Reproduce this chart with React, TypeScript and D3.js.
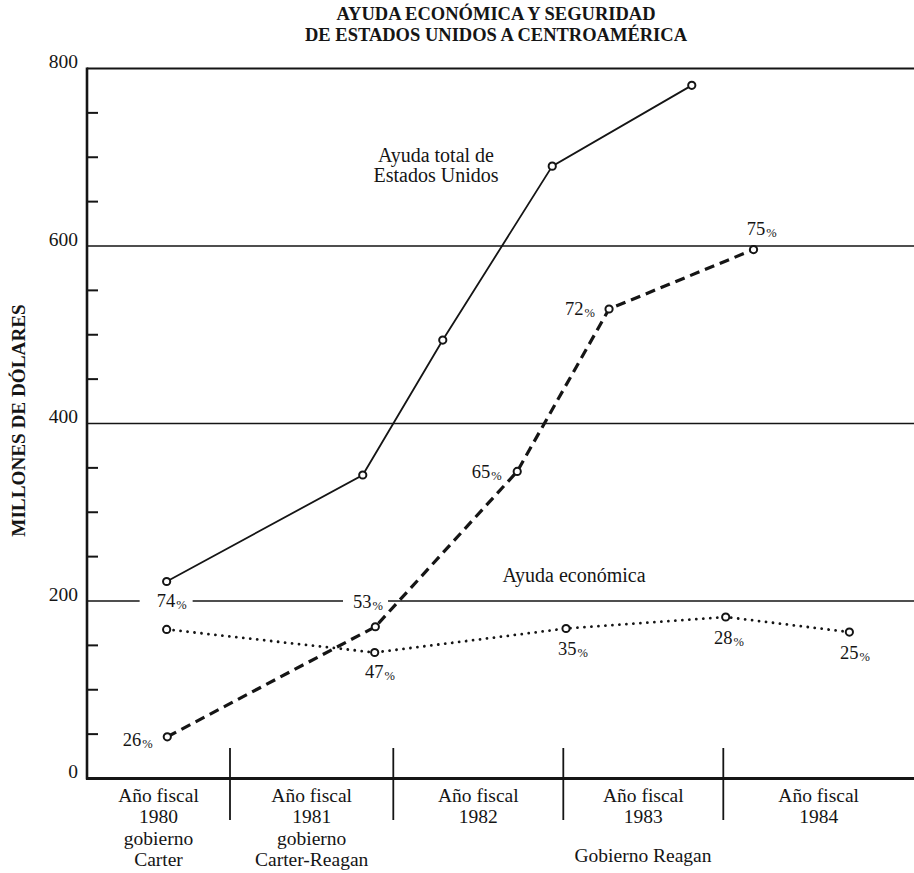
import React from 'react';
import * as d3 from 'd3';

const W = 914;
const H = 873;

// ---- data ----
const fiscalYears = ['1980', '1981', '1982', '1983', '1984'];
const yearBoundaries = [1981, 1982, 1983, 1984];

const totalTimes = [1980.612, 1981.813, 1982.291, 1982.935, 1983.803];
const totalValues = [222, 342, 494, 690, 781];

const securityTimes = [1980.616, 1981.89, 1982.729, 1983.286, 1984.189];
const securityValues = [47, 171, 346, 529, 596];
const securityPct = ['26', '53', '65', '72', '75'];

const economicTimes = [1980.612, 1981.886, 1983.017, 1984.015, 1984.788];
const economicValues = [168, 142, 169, 182, 165];
const economicPct = ['74', '47', '35', '28', '25'];

const yMajorTicks = [0, 200, 400, 600, 800];
const yMinorTicks = [50, 100, 150, 250, 300, 350, 450, 500, 550, 650, 700, 750];

const xLabelLines = [
  ['Año fiscal', '1980', 'gobierno', 'Carter'],
  ['Año fiscal', '1981', 'gobierno', 'Carter-Reagan'],
  ['Año fiscal', '1982'],
  ['Año fiscal', '1983'],
  ['Año fiscal', '1984'],
];

const titleLines = ['AYUDA ECONÓMICA Y SEGURIDAD', 'DE ESTADOS UNIDOS A CENTROAMÉRICA'];
const yTitle = 'MILLONES DE DÓLARES';
const totalLabel = ['Ayuda total de', 'Estados Unidos'];
const economicLabel = 'Ayuda económica';
const reaganLabel = 'Gobierno Reagan';

// ---- layout (label offsets relative to their points, px) ----
const securityLabelOffsets = [
  [-44.6, 9.3],
  [-22.3, -18.7],
  [-45.6, 6.7],
  [-44, 5.7],
  [-6.8, -14.3],
];
const economicLabelOffsets = [
  [-10, -22.3],
  [-9.7, 25.3],
  [-8, 26.7],
  [-11.7, 26.7],
  [-9.3, 26.7],
];

const FONT = '"Liberation Serif", "Times New Roman", serif';
const INK = '#151515';

export default function App() {
  const axisX = 87;
  const x = d3
    .scaleLinear()
    .domain(yearBoundaries)
    .range([230, 393.3, 563.3, 723.3]);
  const y = d3.scaleLinear().domain([0, 800]).range([778.5, 68.5]);

  const totalPts = totalTimes.map((t, i) => [x(t), y(totalValues[i])] as [number, number]);
  const secPts = securityTimes.map((t, i) => [x(t), y(securityValues[i])] as [number, number]);
  const ecoPts = economicTimes.map((t, i) => [x(t), y(economicValues[i])] as [number, number]);

  const linear = d3.line().curve(d3.curveLinear);

  // column boundaries for x labels
  const colEdges = [axisX, ...yearBoundaries.map((b) => x(b)), W];
  const colCenters = fiscalYears.map((_, i) => (colEdges[i] + colEdges[i + 1]) / 2);

  // label positions
  const secLabelPos = secPts.map((p, i) => [p[0] + securityLabelOffsets[i][0], p[1] + securityLabelOffsets[i][1]]);
  const ecoLabelPos = ecoPts.map((p, i) => [p[0] + economicLabelOffsets[i][0], p[1] + economicLabelOffsets[i][1]]);

  // 200 gridline with gaps around "74%" and "53%"
  const gaps = [
    [ecoLabelPos[0][0] - 17, ecoLabelPos[0][0] + 36],
    [secLabelPos[1][0] - 10, secLabelPos[1][0] + 35],
  ];
  const seg200: [number, number][] = [];
  let start = axisX;
  gaps.forEach(([a, b]) => {
    seg200.push([start, a]);
    start = b;
  });
  seg200.push([start, W]);

  const pctLabel = (num: string, pos: number[], key: string) => (
    <text key={key} x={pos[0]} y={pos[1]} fontFamily={FONT} fontSize={18.5} fill={INK}>
      {num}
      <tspan fontSize={12.5} dy={2} dx={1}>%</tspan>
    </text>
  );

  return (
    <svg
      width={W}
      height={H}
      viewBox={`0 0 ${W} ${H}`}
      style={{ position: 'absolute', left: 0, top: 0, display: 'block', background: '#fff' }}
    >
      <rect x={0} y={0} width={W} height={H} fill="#fff" />

      {/* title */}
      {titleLines.map((t, i) => (
        <text
          key={t}
          x={496}
          y={20 + i * 21}
          textAnchor="middle"
          fontFamily={FONT}
          fontWeight="bold"
          fontSize={18.5}
          fill={INK}
        >
          {t}
        </text>
      ))}

      {/* horizontal reference lines */}
      {[400, 600, 800].map((v) => (
        <line
          key={v}
          x1={axisX}
          x2={W}
          y1={y(v)}
          y2={y(v)}
          stroke={INK}
          strokeWidth={v === 800 ? 2.2 : 1.6}
        />
      ))}
      {seg200.map(([a, b], i) => (
        <line key={'g200' + i} x1={a} x2={b} y1={y(200)} y2={y(200)} stroke={INK} strokeWidth={1.6} />
      ))}

      {/* y axis */}
      <line x1={axisX} x2={axisX} y1={y(800) - 1} y2={y(0) + 1} stroke={INK} strokeWidth={2.6} />
      {yMinorTicks.map((v) => (
        <line key={v} x1={axisX} x2={axisX + 11} y1={y(v)} y2={y(v)} stroke={INK} strokeWidth={2} />
      ))}
      {yMajorTicks.map((v) => (
        <text
          key={v}
          x={78}
          y={y(v) - 0.5}
          textAnchor="end"
          fontFamily={FONT}
          fontSize={19.5}
          fill={INK}
        >
          {v}
        </text>
      ))}
      <text
        transform={`translate(25, 420.5) rotate(-90)`}
        textAnchor="middle"
        fontFamily={FONT}
        fontWeight="bold"
        fontSize={19.2}
        fill={INK}
      >
        {yTitle}
      </text>

      {/* x axis */}
      <line x1={axisX - 1} x2={W} y1={y(0)} y2={y(0)} stroke={INK} strokeWidth={2.8} />
      {yearBoundaries.map((b) => (
        <line key={b} x1={x(b)} x2={x(b)} y1={748} y2={820} stroke={INK} strokeWidth={1.8} />
      ))}
      {xLabelLines.map((lines, i) =>
        lines.map((l, j) => (
          <text
            key={i + '-' + j}
            x={colCenters[i]}
            y={802 + j * 21.3}
            textAnchor="middle"
            fontFamily={FONT}
            fontSize={19.5}
            fill={INK}
          >
            {l}
          </text>
        ))
      )}
      <text x={643} y={862} textAnchor="middle" fontFamily={FONT} fontSize={19.5} fill={INK}>
        {reaganLabel}
      </text>

      {/* series */}
      <path d={linear(totalPts) || ''} fill="none" stroke={INK} strokeWidth={1.8} />
      <path
        d={linear(secPts) || ''}
        fill="none"
        stroke={INK}
        strokeWidth={3.2}
        strokeDasharray="10 6"
      />
      <path
        d={linear(ecoPts) || ''}
        fill="none"
        stroke={INK}
        strokeWidth={2.8}
        strokeLinecap="round"
        strokeDasharray="0.01 7"
      />

      {[...totalPts, ...secPts, ...ecoPts].map((p, i) => (
        <circle key={'c' + i} cx={p[0]} cy={p[1]} r={3.6} fill="#fff" stroke={INK} strokeWidth={2} />
      ))}

      {/* percentage labels */}
      {securityPct.map((s, i) => pctLabel(s, secLabelPos[i], 's' + i))}
      {economicPct.map((s, i) => pctLabel(s, ecoLabelPos[i], 'e' + i))}

      {/* series labels */}
      {totalLabel.map((t, i) => (
        <text key={t} x={436} y={162 + i * 20} textAnchor="middle" fontFamily={FONT} fontSize={20} fill={INK}>
          {t}
        </text>
      ))}
      <text x={574} y={582} textAnchor="middle" fontFamily={FONT} fontSize={20} fill={INK}>
        {economicLabel}
      </text>
    </svg>
  );
}
